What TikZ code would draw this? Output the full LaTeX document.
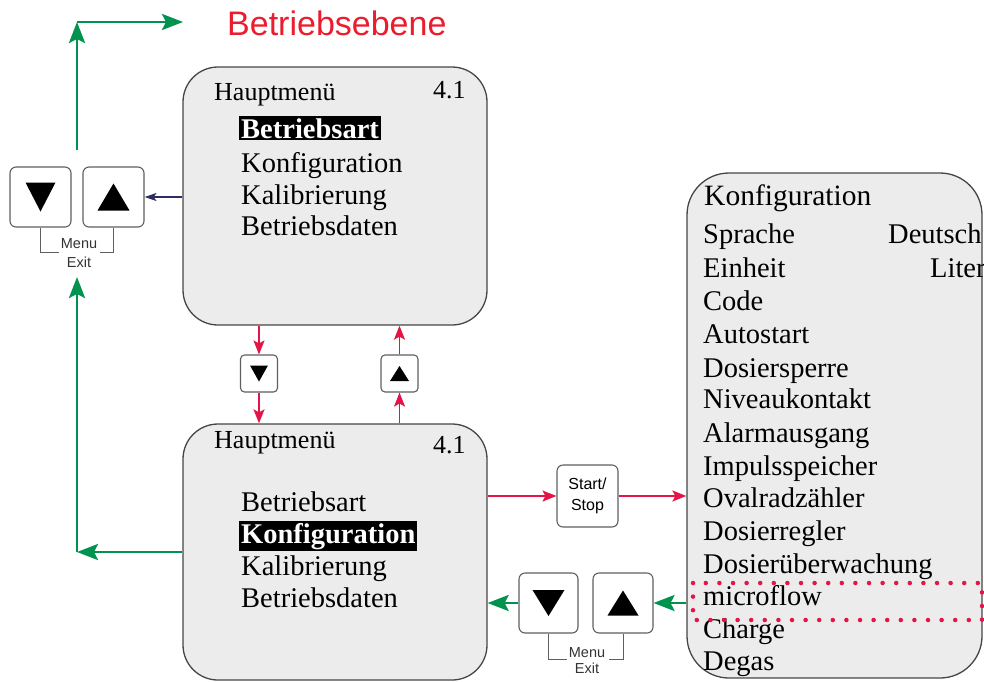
\documentclass[tikz,border=0pt]{standalone}
\usepackage{fontspec}
\setmainfont{Liberation Serif}
\setsansfont{Liberation Sans}
\usetikzlibrary{arrows.meta,calc}
\definecolor{agreen}{RGB}{0,146,79}
\definecolor{ared}{RGB}{228,20,72}
\definecolor{titlered}{RGB}{235,28,45}
\definecolor{anavy}{RGB}{45,45,100}
\definecolor{boxfill}{RGB}{236,236,236}
\definecolor{boxline}{RGB}{70,70,70}
\definecolor{keyline}{RGB}{95,95,95}
\newcommand\mfont{\fontsize{28.5}{30}\selectfont}
\newcommand\hfont{\fontsize{26}{28}\selectfont}
\newcommand\tridown[3]{\fill[black] ($(#1)+(-#2,-#3)$) -- ($(#1)+(#2,-#3)$) -- ($(#1)+(0,#3)$) -- cycle;}
\newcommand\triup[3]{\fill[black] ($(#1)+(-#2,#3)$) -- ($(#1)+(#2,#3)$) -- ($(#1)+(0,-#3)$) -- cycle;}
\begin{document}
\begin{tikzpicture}[x=1pt,y=-1pt,
 screen/.style={draw=boxline, line width=1.3pt, fill=boxfill, rounded corners=35pt, inner sep=0pt},
 keybtn/.style={draw=keyline, line width=1.1pt, fill=white, rounded corners=6pt, inner sep=0pt},
 mtxt/.style={anchor=base west, inner sep=0pt, font=\mfont},
 htxt/.style={anchor=base west, inner sep=0pt, font=\hfont},
 hl/.style={anchor=base west, fill=black, text=white, inner xsep=2pt, inner ysep=2pt, font=\mfont\bfseries},
 garrow/.style={draw=agreen, line width=2.8pt, -{Stealth[length=21pt,width=16pt,inset=4pt]}},
 rarrow/.style={draw=ared, line width=1.8pt, -{Stealth[length=14pt,width=11pt,inset=3pt]}},
 narrow/.style={draw=anavy, line width=1.5pt, -{Stealth[length=12pt,width=8pt,inset=3pt]}},
 bracket/.style={draw=keyline, line width=0.9pt},
 small/.style={font=\sffamily\fontsize{14.5}{16}\selectfont, inner sep=0pt, anchor=base, text=black!80}
]
\useasboundingbox (0,0) rectangle (984,681);

% title
\node[text=titlered, font=\sffamily\fontsize{34}{36}\selectfont, anchor=base west, inner sep=0pt] (title) at (227,35) {Betriebsebene};

% screens
\node[screen, minimum width=304pt, minimum height=258pt] (top) at (335,196) {};
\node[screen, minimum width=304pt, minimum height=256pt] (bot) at (335,552) {};
\node[screen, rounded corners=42pt, minimum width=295pt, minimum height=505pt] (cfg) at (834.5,425.5) {};

% top screen texts
\node[htxt] (t1) at (214,100) {Hauptmenü};
\node[htxt] (t2) at (433,98) {4.1};
\node[hl] (t3) at (239,138) {Betriebsart};
\node[mtxt] (t4) at (241,172) {Konfiguration};
\node[mtxt] (t5) at (241,204) {Kalibrierung};
\node[mtxt] (t6) at (241,235) {Betriebsdaten};

% bottom screen texts
\node[htxt] (b1) at (214,448) {Hauptmenü};
\node[htxt] (b2) at (433,453) {4.1};
\node[mtxt] (b3) at (241,511) {Betriebsart};
\node[hl] (b4) at (239,543) {Konfiguration};
\node[mtxt] (b5) at (241,575) {Kalibrierung};
\node[mtxt] (b6) at (241,607) {Betriebsdaten};

% configuration list
\node[anchor=base west, inner sep=0pt, font=\fontsize{29.5}{31}\selectfont] (c0) at (704,205) {Konfiguration};
\node[mtxt] (c1) at (703,243) {Sprache};
\node[mtxt] (c1v) at (888,243) {Deutsch};
\node[mtxt] (c2) at (703,277) {Einheit};
\node[mtxt] (c2v) at (930,277) {Liter};
\node[mtxt] (c3) at (703,310) {Code};
\node[mtxt] (c4) at (703,343) {Autostart};
\node[mtxt] (c5) at (703,377) {Dosiersperre};
\node[mtxt] (c6) at (703,408) {Niveaukontakt};
\node[mtxt] (c7) at (703,442) {Alarmausgang};
\node[mtxt] (c8) at (703,475) {Impulsspeicher};
\node[mtxt] (c9) at (703,507) {Ovalradzähler};
\node[mtxt] (c10) at (703,540) {Dosierregler};
\node[mtxt] (c11) at (703,573) {Dosierüberwachung};
\node[mtxt] (c12) at (703,605) {microflow};
\node[mtxt] (c13) at (703,638) {Charge};
\node[mtxt] (c14) at (703,670) {Degas};

% dotted highlight
\draw[ared, line width=4.5pt, line cap=round, dash pattern=on 0pt off 13.6pt] (693,583) rectangle (982,620);

% left keys
\node[keybtn, minimum width=61pt, minimum height=60pt] (ld) at (40.5,197) {};
\node[keybtn, minimum width=61pt, minimum height=60pt] (lu) at (113.5,197) {};
\tridown{ld}{15}{14.5}
\triup{lu}{16}{13.5}
\node[small] (m1) at (79,248) {Menu};
\node[small] (e1) at (79,267) {Exit};
\draw[bracket] (ld.south) -- ++(0,25) -- ++(18,0);
\draw[bracket] (lu.south) -- ++(0,25) -- ++(-14,0);

% small keys
\node[keybtn, rounded corners=4pt, minimum size=37pt] (sd) at (259,373.5) {};
\node[keybtn, rounded corners=4pt, minimum size=37pt] (su) at (399.5,373.5) {};
\tridown{sd}{9}{8}
\triup{su}{9.5}{7.5}

% start/stop
\node[keybtn, minimum width=61pt, minimum height=62pt, align=center, font=\sffamily\fontsize{16}{21}\selectfont] (ss) at (587.5,496) {Start/\\Stop};

% right keys
\node[keybtn, minimum width=59pt, minimum height=60pt] (rd) at (548.5,603) {};
\node[keybtn, minimum width=60pt, minimum height=60pt] (ru) at (623,603) {};
\tridown{rd}{16}{13}
\triup{ru}{15.5}{12.5}
\node[small] (m2) at (587,657) {Menu};
\node[small] (e2) at (587,673) {Exit};
\draw[bracket] (rd.south) -- ++(0,26) -- ++(18,0);
\draw[bracket] (ru.south) -- ++(0,26) -- ++(-14,0);

% coordinates for free ends
\coordinate (gx) at (77,0);
\coordinate (gmenu) at (77,277);
\coordinate (gstart) at (77,150);
\coordinate (gtop) at (77,22);
\coordinate (gend) at (183,22);

% green connectors
\draw[garrow] (bot.west) -- (bot.west -| gx);
\draw[garrow] (bot.west -| gx) -- (gmenu);
\draw[garrow] (gstart) -- (gtop);
\draw[garrow] (gtop) -- (gend);
\draw[garrow] (cfg.west |- ru) -- (ru.east);
\draw[garrow] (rd.west) -- (bot.east |- rd);

% navy connector
\draw[narrow] (top.west |- lu) -- (lu.east);

% red connectors
\draw[rarrow] (top.south -| sd) -- (sd.north);
\draw[rarrow] (sd.south) -- (bot.north -| sd);
\draw[rarrow] (bot.north -| su) -- (su.south);
\draw[rarrow] (su.north) -- (top.south -| su);
\draw[rarrow] (bot.east |- ss) -- (ss.west);
\draw[rarrow] (ss.east) -- (cfg.west |- ss);
\end{tikzpicture}
\end{document}
